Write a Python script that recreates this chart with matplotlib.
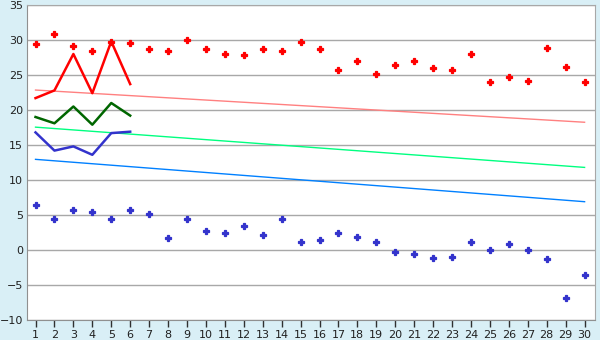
import numpy as np
import matplotlib
matplotlib.use("Agg")
import matplotlib.pyplot as plt

DAYS = list(range(1, 31))

RED_DOTS = [29.4, 30.8, 29.2, 28.4, 29.7, 29.6, 28.7, 28.4, 30.0, 28.7,
            28.0, 27.8, 28.7, 28.4, 29.7, 28.7, 25.7, 27.0, 25.2, 26.4,
            27.0, 26.0, 25.7, 28.0, 24.0, 24.7, 24.2, 28.8, 26.2, 24.0]
BLUE_DOTS = [6.5, 4.4, 5.7, 5.5, 4.5, 5.7, 5.2, 1.7, 4.4, 2.7,
             2.5, 3.5, 2.1, 4.4, 1.2, 1.4, 2.4, 1.9, 1.1, -0.3,
             -0.6, -1.2, -1.0, 1.1, 0.0, 0.8, 0.0, -1.3, -6.9, -3.5]

LINE_DAYS = [1, 2, 3, 4, 5, 6]
RED_LINE = [21.7, 22.8, 28.0, 22.4, 29.8, 23.7]
GREEN_LINE = [19.0, 18.1, 20.5, 17.9, 21.0, 19.2]
BLUE_LINE = [16.8, 14.2, 14.8, 13.6, 16.7, 16.9]

# trend lines: value at day 1 and day 30
TREND_DAYS = [1, 30]
PINK_TREND = [22.85, 18.25]
LGREEN_TREND = [17.55, 11.8]
LBLUE_TREND = [12.95, 6.9]

BG = "#d9eff6"

fig = plt.figure(figsize=(6, 3.4), dpi=100, facecolor=BG)
ax = fig.add_axes([27 / 600, 1 - 320 / 340, 568 / 600, 315 / 340])
ax.set_facecolor("white")

ax.set_ylim(-10, 35)
ax.set_yticks(range(-10, 36, 5))
ax.set_xlim(0.55, 30.55)
ax.set_xticks(DAYS)
ax.grid(axis="y", color="#a8a8a8", lw=1)
ax.set_axisbelow(True)

for s in ax.spines.values():
    s.set_color("#a8a8a8")
ax.spines["left"].set_color("#909090")
ax.spines["bottom"].set_color("#909090")

ax.tick_params(axis="y", length=0, pad=3, labelsize=8, colors="#202020")
ax.tick_params(axis="x", length=5, width=1, color="#303030", pad=2,
               labelsize=8, labelcolor="#202020")

ax.plot(TREND_DAYS, PINK_TREND, color="#ff8080", lw=1)
ax.plot(TREND_DAYS, LGREEN_TREND, color="#00ff80", lw=1)
ax.plot(TREND_DAYS, LBLUE_TREND, color="#0080ff", lw=1)

ax.plot(LINE_DAYS, RED_LINE, color="#ff0000", lw=1.8)
ax.plot(LINE_DAYS, GREEN_LINE, color="#006600", lw=1.8)
ax.plot(LINE_DAYS, BLUE_LINE, color="#3333cc", lw=1.8)

ax.plot(DAYS, RED_DOTS, ls="none", marker="P", ms=4.5, color="#ff0000", mec="#ff0000", mew=0.9)
ax.plot(DAYS, BLUE_DOTS, ls="none", marker="P", ms=4.5, color="#3333cc", mec="#3333cc", mew=0.9)

fig.savefig("out.png", dpi=100, facecolor=BG)
